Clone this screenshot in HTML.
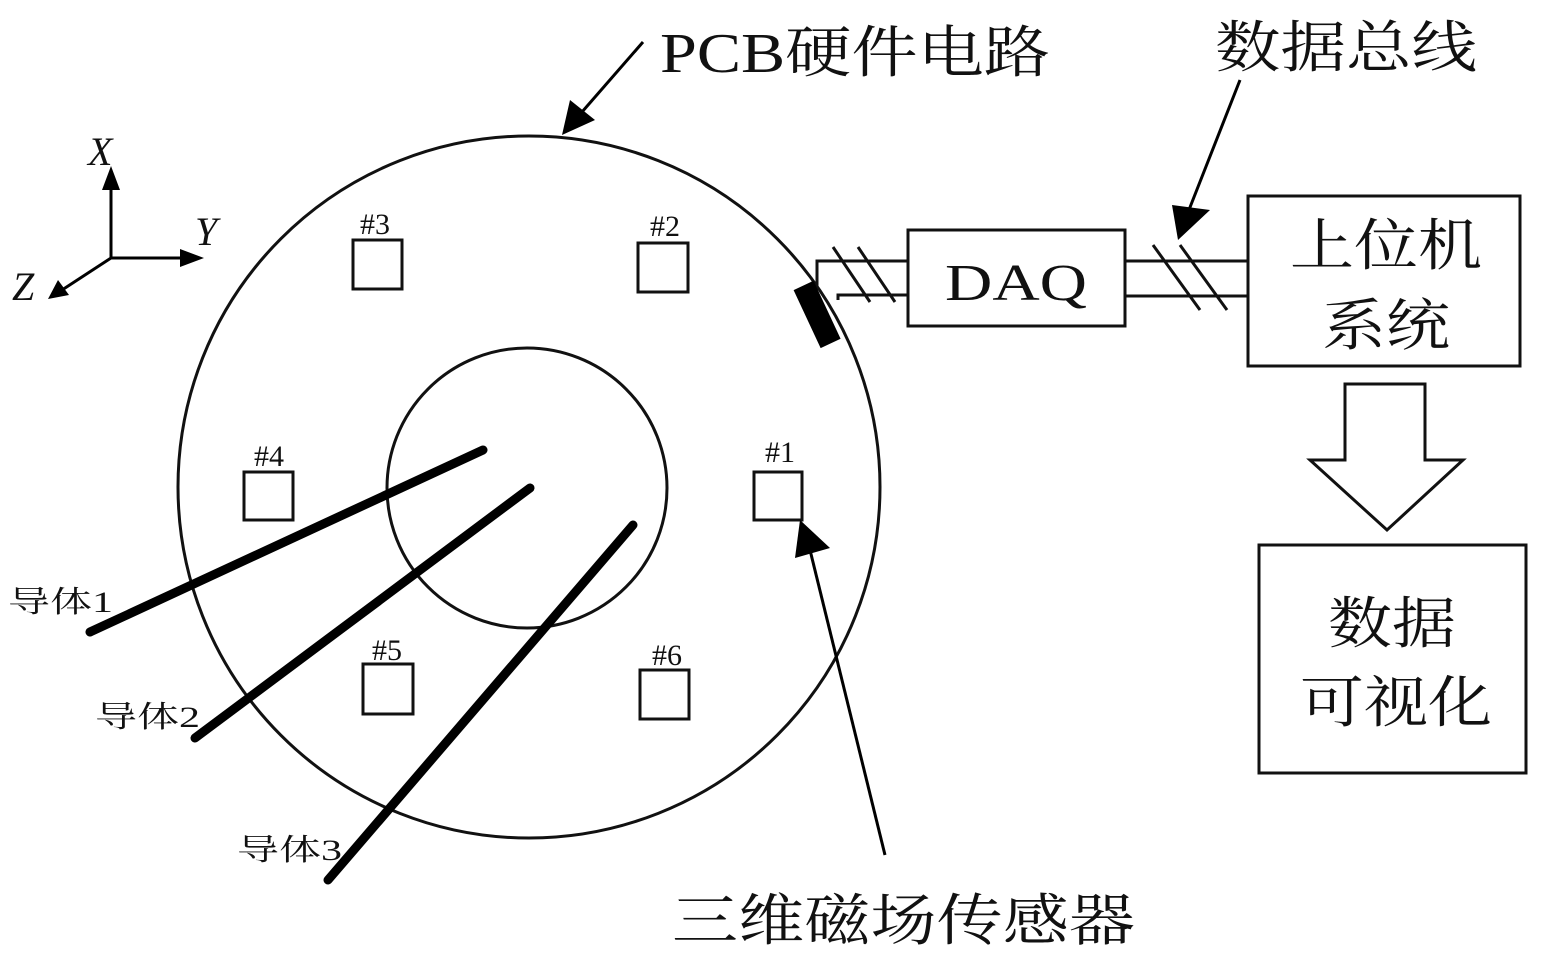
<!DOCTYPE html>
<html><head><meta charset="utf-8"><style>html,body{margin:0;padding:0;background:#fff}svg{display:block}text{font-family:"Liberation Serif","Noto Serif CJK SC",serif;fill:#111}</style></head>
<body>
<svg width="1543" height="963" viewBox="0 0 1543 963" xmlns="http://www.w3.org/2000/svg">
<g stroke="#111" fill="none" stroke-width="3">
<circle cx="529" cy="487" r="351"/>
<circle cx="527" cy="488" r="140"/>
<rect x="353" y="240" width="49" height="49"/>
<rect x="638" y="243" width="50" height="49"/>
<rect x="244" y="472" width="49" height="48"/>
<rect x="754" y="472" width="48" height="48"/>
<rect x="363" y="664" width="50" height="50"/>
<rect x="640" y="670" width="49" height="49"/>
<rect x="908" y="230" width="217" height="96"/>
<rect x="1248" y="196" width="272" height="170"/>
<rect x="1259" y="545" width="267" height="228"/>
<path d="M1345,384 L1425,384 L1425,460 L1463,460 L1387,530 L1310,460 L1345,460 Z"/>
<path d="M817,290 L817,261 L908,261"/>
<path d="M838,300 L838,295 L908,295"/>
<path d="M1125,261 L1248,261"/>
<path d="M1125,296 L1248,296"/>
<path d="M833,247 L870,302 M858,247 L895,302"/>
<path d="M1153,245 L1200,310 M1180,245 L1227,310"/>
</g>
<rect x="806" y="282" width="22" height="64" fill="#000" transform="rotate(-25 818 314)"/>
<g stroke="#000" stroke-width="9" stroke-linecap="round">
<line x1="90" y1="632" x2="483" y2="450"/>
<line x1="195" y1="738" x2="530" y2="488"/>
<line x1="328" y1="880" x2="633" y2="525"/>
</g>
<g stroke="#000" stroke-width="3" fill="none">
<line x1="111" y1="258" x2="111" y2="185"/>
<line x1="111" y1="258" x2="185" y2="258"/>
<line x1="111" y1="258" x2="62" y2="290"/>
<line x1="643" y1="42" x2="575" y2="120"/>
<line x1="1240" y1="80" x2="1185" y2="220"/>
<line x1="885" y1="855" x2="810" y2="550"/>
</g>
<path d="M111,166 L102,190 L120,190 Z" fill="#000"/>
<path d="M204,258 L180,249 L180,267 Z" fill="#000"/>
<path d="M48,299 L58,280 L69,295 Z" fill="#000"/>
<path d="M562,135 L570,100 L595,120 Z" fill="#000"/>
<path d="M1178,240 L1172,205 L1210,210 Z" fill="#000"/>
<path d="M800,520 L795,558 L830,548 Z" fill="#000"/>
<g font-style="italic" font-size="40">
<text x="88" y="165">X</text>
<text x="195" y="245">Y</text>
<text x="12" y="300">Z</text>
</g>
<g font-size="30">
<text x="360" y="234">#3</text>
<text x="650" y="236">#2</text>
<text x="254" y="466">#4</text>
<text x="765" y="462">#1</text>
<text x="372" y="660">#5</text>
<text x="652" y="665">#6</text>
<text x="8" y="612" textLength="105" lengthAdjust="spacingAndGlyphs">导体1</text>
<text x="95" y="727" textLength="105" lengthAdjust="spacingAndGlyphs">导体2</text>
<text x="237" y="860" textLength="105" lengthAdjust="spacingAndGlyphs">导体3</text>
</g>
<text x="945" y="300" font-size="52" textLength="142" lengthAdjust="spacingAndGlyphs">DAQ</text>
<g font-size="56">
<text x="660" y="72" textLength="390" lengthAdjust="spacingAndGlyphs">PCB硬件电路</text>
<text x="1215" y="67" textLength="262" lengthAdjust="spacingAndGlyphs">数据总线</text>
<text x="672" y="940" textLength="463" lengthAdjust="spacingAndGlyphs">三维磁场传感器</text>
<text x="1290" y="265" textLength="192" lengthAdjust="spacingAndGlyphs">上位机</text>
<text x="1322" y="345" textLength="128" lengthAdjust="spacingAndGlyphs">系统</text>
<text x="1328" y="643" textLength="128" lengthAdjust="spacingAndGlyphs">数据</text>
<text x="1300" y="722" textLength="192" lengthAdjust="spacingAndGlyphs">可视化</text>
</g>
</svg>
</body></html>
